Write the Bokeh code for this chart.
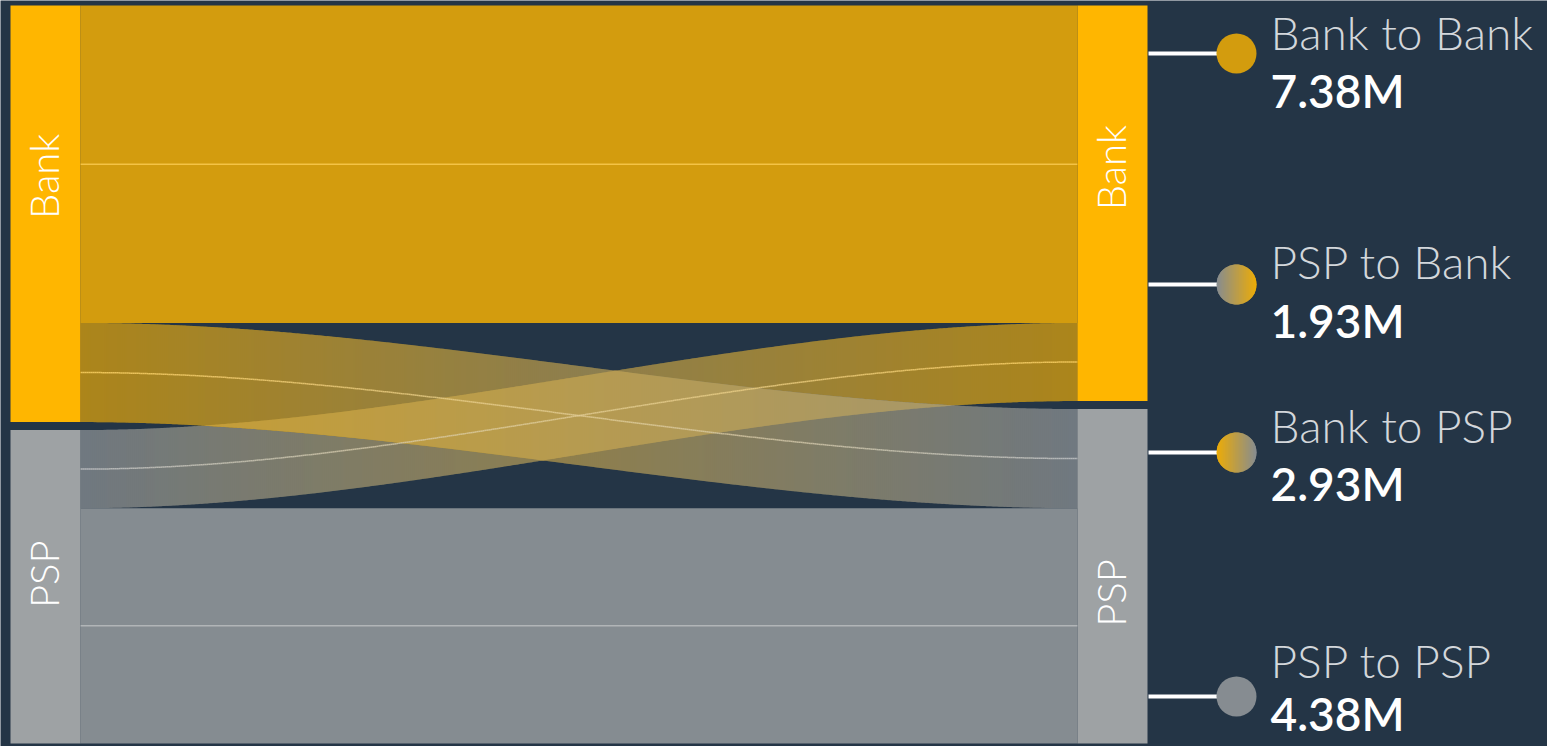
import numpy as np
from bokeh.plotting import figure
from bokeh.models import Range1d, ColumnDataSource
from bokeh.core.properties import value
from bokeh.embed import file_html
from bokeh.resources import INLINE

# ---------------- data ----------------
nodes = ["Bank", "PSP"]
flow_source = ["Bank", "PSP", "Bank", "PSP"]
flow_target = ["Bank", "Bank", "PSP", "PSP"]
flow_names = ["Bank to Bank", "PSP to Bank", "Bank to PSP", "PSP to PSP"]
flow_amount_m = [7.38, 1.93, 2.93, 4.38]
# band thickness as drawn in the picture (relative units)
flow_size = [317, 78, 99, 235]

# ---------------- style ----------------
BG = "#243546"
NODE_COLOR = {"Bank": "#FFB600", "PSP": "#9EA2A4"}
NAME_COLOR = "#D3D7DB"
ALPHA_SAME = 0.80
ALPHA_CROSS = 0.62
FONT_LIGHT = "Lato Light"
FONT_VALUE = "Lato Semibold"


def h2r(h):
    h = h.lstrip("#")
    return np.array([int(h[i:i + 2], 16) for i in (0, 2, 4)], dtype=float)


def r2h(c):
    c = np.clip(np.round(c), 0, 255).astype(int)
    return "#%02x%02x%02x" % tuple(c)


def mix(a, b, t):
    return r2h(h2r(a) * (1 - t) + h2r(b) * t)


def over(c, a, bg=BG):
    return r2h(h2r(c) * a + h2r(bg) * (1 - a))


def ease(u):
    return u * u * (3 - 2 * u)


# ---------------- layout (page pixel space) ----------------
W, H = 1547, 746
TOP, BOTTOM, GAP = 5, 743, 8
LX0, LX1 = 10, 80
RX0, RX1 = 1077, 1147

k = (BOTTOM - TOP - GAP * (len(nodes) - 1)) / sum(flow_size)

out_total = {n: sum(s for s, f in zip(flow_size, flow_source) if f == n) for n in nodes}
in_total = {n: sum(s for s, t in zip(flow_size, flow_target) if t == n) for n in nodes}

left_pos, right_pos = {}, {}
y = TOP
for n in nodes:
    left_pos[n] = (y, y + out_total[n] * k)
    y = left_pos[n][1] + GAP
y = TOP
for n in nodes:
    right_pos[n] = (y, y + in_total[n] * k)
    y = right_pos[n][1] + GAP

idx = list(range(len(flow_size)))
src_ext, tgt_ext = {}, {}
for n in nodes:
    y = left_pos[n][0]
    for i in sorted([i for i in idx if flow_source[i] == n], key=lambda i: nodes.index(flow_target[i])):
        src_ext[i] = (y, y + flow_size[i] * k)
        y += flow_size[i] * k
    y = right_pos[n][0]
    for i in sorted([i for i in idx if flow_target[i] == n], key=lambda i: nodes.index(flow_source[i])):
        tgt_ext[i] = (y, y + flow_size[i] * k)
        y += flow_size[i] * k

p = figure(width=W, height=H, output_backend="svg", toolbar_location=None,
           x_range=Range1d(0, W), y_range=Range1d(H, 0),
           min_border=0, outline_line_color=None,
           background_fill_color=BG, border_fill_color=BG)
p.axis.visible = False
p.grid.visible = False

X0, X1 = LX1, RX0


def top_edge(i, x):
    return src_ext[i][0] + (tgt_ext[i][0] - src_ext[i][0]) * ease((x - X0) / (X1 - X0))


def bot_edge(i, x):
    return src_ext[i][1] + (tgt_ext[i][1] - src_ext[i][1]) * ease((x - X0) / (X1 - X0))


def grad(i, x):
    u = (x - X0) / (X1 - X0)
    return mix(NODE_COLOR[flow_source[i]], NODE_COLOR[flow_target[i]], u)


same = [i for i in idx if flow_source[i] == flow_target[i]]
cross = [i for i in idx if flow_source[i] != flow_target[i]]

# same-colour flows: one translucent band each
for i in same:
    xs = np.linspace(X0, X1, 200)
    top, bot = top_edge(i, xs), bot_edge(i, xs)
    cs = NODE_COLOR[flow_source[i]]
    p.patch(np.concatenate([xs, xs[::-1]]), np.concatenate([top, bot[::-1]]),
            fill_color=cs, fill_alpha=ALPHA_SAME, line_color=None)
    p.line(xs, (top + bot) / 2, line_color=mix(cs, "#ffffff", 0.35), line_alpha=0.75, line_width=1.5)

# crossing flows: gradient bands, composited to opaque slices (they only lie over the background)
STEP = 2
xe = list(range(X0, X1, STEP)) + [X1]
slices = []
for xa, xb in zip(xe[:-1], xe[1:]):
    xb2 = min(xb + 1, X1)
    xm = (xa + xb) / 2
    slices.append((xa, xb2, xm))

fill_x, fill_y, fill_c = [], [], []
base = {}
for i in cross:
    for (xa, xb, xm) in slices:
        c = over(grad(i, xm), ALPHA_CROSS)
        base[(i, xm)] = c
        fill_x.append([xa, xb, xb, xa])
        fill_y.append([top_edge(i, xa), top_edge(i, xb), bot_edge(i, xb), bot_edge(i, xa)])
        fill_c.append(c)
# overlap of the crossing bands (later band over the earlier one)
for a_i in range(len(cross)):
    for b_i in range(a_i + 1, len(cross)):
        a, b = cross[a_i], cross[b_i]
        for (xa, xb, xm) in slices:
            t1 = max(top_edge(a, xa), top_edge(b, xa))
            b1 = min(bot_edge(a, xa), bot_edge(b, xa))
            t2 = max(top_edge(a, xb), top_edge(b, xb))
            b2 = min(bot_edge(a, xb), bot_edge(b, xb))
            if b1 <= t1 and b2 <= t2:
                continue
            b1, b2 = max(b1, t1), max(b2, t2)
            fill_x.append([xa, xb, xb, xa])
            fill_y.append([t1, t2, b2, b1])
            fill_c.append(over(grad(b, xm), ALPHA_CROSS, base[(a, xm)]))
p.patches(xs="xs", ys="ys", fill_color="c", line_color=None,
          source=ColumnDataSource(dict(xs=fill_x, ys=fill_y, c=fill_c)))

lxs, lys, lcols = [], [], []
for i in cross:
    for xa, xb in zip(xe[:-1], xe[1:]):
        lxs.append([xa, xb])
        lys.append([(top_edge(i, xa) + bot_edge(i, xa)) / 2, (top_edge(i, xb) + bot_edge(i, xb)) / 2])
        lcols.append(mix(grad(i, (xa + xb) / 2), "#ffffff", 0.4))
p.multi_line(xs="xs", ys="ys", line_color="c", line_alpha=0.8, line_width=1.5,
             source=ColumnDataSource(dict(xs=lxs, ys=lys, c=lcols)))

# nodes
for pos, x0, x1 in ((left_pos, LX0, LX1), (right_pos, RX0, RX1)):
    p.quad(left=[x0] * len(nodes), right=[x1] * len(nodes),
           top=[pos[n][0] for n in nodes], bottom=[pos[n][1] for n in nodes],
           fill_color=[NODE_COLOR[n] for n in nodes], line_color=None)

# node labels (rotated)
label_frac = {"left": {"Bank": 0.41, "PSP": 0.46}, "right": {"Bank": 0.41, "PSP": 0.55}}
lab_x, lab_y, lab_t = [], [], []
for side, pos, x0, x1 in (("left", left_pos, LX0, LX1), ("right", right_pos, RX0, RX1)):
    for n in nodes:
        a, b = pos[n]
        lab_x.append((x0 + x1) / 2 - 2)
        lab_y.append(a + (b - a) * label_frac[side][n])
        lab_t.append(n)
p.text(x=lab_x, y=lab_y, text=lab_t, angle=np.pi / 2, text_align="center",
       text_baseline="middle", text_color="#ffffff", text_font=value(FONT_LIGHT),
       text_font_size="40px")

# legend
CX, R, LINE_X0, TEXT_X = 1236, 20, 1148, 1270
legend_cy = [53, 284, 452, 696]
legend_name_mid = [32, 261, 425, 660]
legend_value_mid = [90, 320, 483, 713]

p.segment(x0=[LINE_X0] * 4, x1=[CX - R + 2] * 4, y0=legend_cy, y1=legend_cy,
          line_color="#ffffff", line_width=4)

for i, cy in enumerate(legend_cy):
    cs, ct = NODE_COLOR[flow_source[i]], NODE_COLOR[flow_target[i]]
    if cs == ct:
        p.circle(x=[CX], y=[cy], radius=R, fill_color=over(cs, ALPHA_SAME), line_color=None)
    else:
        a_s = ALPHA_SAME if cs == NODE_COLOR["PSP"] else 0.92
        a_t = ALPHA_SAME if ct == NODE_COLOR["PSP"] else 0.92
        c0, c1 = over(cs, a_s), over(ct, a_t)
        xs, ys, cols = [], [], []
        for xa in range(CX - R, CX + R):
            xb = min(xa + 2, CX + R)
            xx = np.linspace(xa, xb, 5)
            hh = np.sqrt(np.clip(R * R - (xx - CX) ** 2, 0, None))
            xs.append(list(xx) + list(xx[::-1]))
            ys.append(list(cy - hh) + list((cy + hh)[::-1]))
            cols.append(mix(c0, c1, (xa + 0.5 - (CX - R)) / (2 * R)))
        p.patches(xs="xs", ys="ys", fill_color="c", line_color=None,
                  source=ColumnDataSource(dict(xs=xs, ys=ys, c=cols)))

p.text(x=[TEXT_X] * 4, y=legend_name_mid, text=flow_names, text_baseline="middle",
       text_align="left", text_color=NAME_COLOR, text_font=value(FONT_LIGHT),
       text_font_size="46px")
p.text(x=[TEXT_X] * 4, y=legend_value_mid,
       text=[f"{v:.2f}M" for v in flow_amount_m], text_baseline="middle",
       text_align="left", text_color="#ffffff", text_font=value(FONT_VALUE),
       text_font_size="46px")

open("out.html", "w").write(file_html(p, INLINE))
